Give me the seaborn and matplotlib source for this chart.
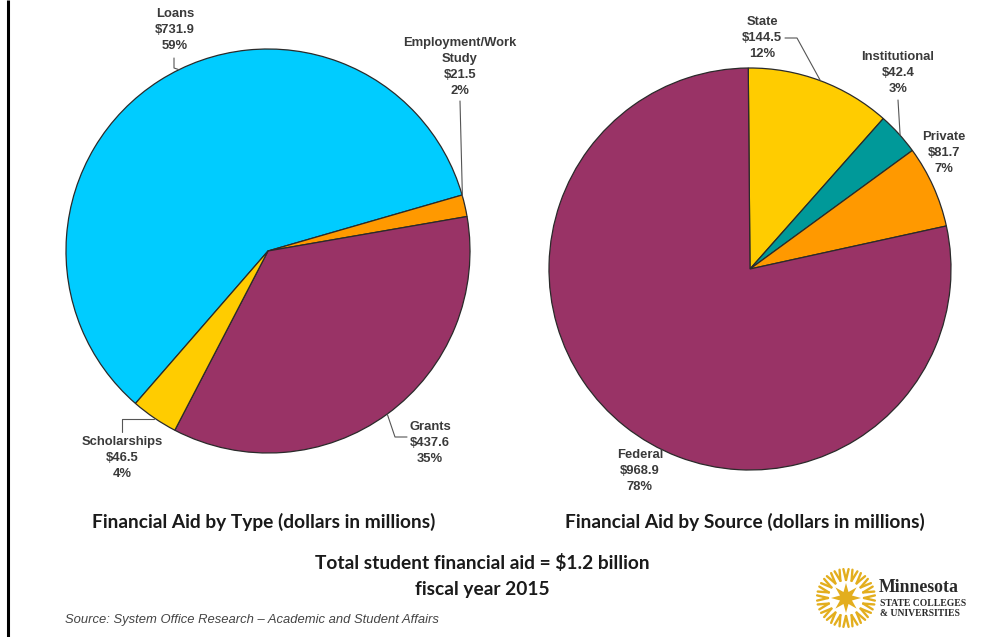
import numpy as np
import matplotlib
matplotlib.use("Agg")
import matplotlib.pyplot as plt
import seaborn as sns

# Financial aid, fiscal year 2015 (dollars in millions)
type_labels = ["Loans", "Employment/Work\nStudy", "Grants", "Scholarships"]
type_values = [731.9, 21.5, 437.6, 46.5]
type_pcts = ["59%", "2%", "35%", "4%"]

source_labels = ["State", "Institutional", "Private", "Federal"]
source_values = [144.5, 42.4, 81.7, 968.9]
source_pcts = ["12%", "3%", "7%", "78%"]

type_colors = ["#00CCFF", "#FF9900", "#993366", "#FFCC00"]
source_colors = ["#FFCC00", "#009999", "#FF9900", "#993366"]

W, H = 1003, 637
sns.set_theme(style="white")
plt.rcParams["font.family"] = ["Liberation Sans", "DejaVu Sans"]

fig = plt.figure(figsize=(W / 100, H / 100), dpi=100)
ax = fig.add_axes([0, 0, 1, 1])


def Y(y):
    """Page coordinates measured from the top."""
    return H - y


LABEL_KW = dict(fontsize=9.4, fontweight="bold", color="#3a3a3a",
                ha="center", va="center", linespacing=1.45)
LEADER_KW = dict(color="#555555", lw=0.8)


def draw_pie(values, colors, center, radius, startangle):
    wedges, _ = ax.pie(values, colors=colors, startangle=startangle,
                       counterclock=False, center=center, radius=radius,
                       frame=True,
                       wedgeprops=dict(edgecolor="#2a2a2a", linewidth=0.9))
    return wedges


def edge_point(wedge, frac=0.5, r_scale=1.0):
    ang = np.deg2rad(wedge.theta1 + frac * (wedge.theta2 - wedge.theta1))
    cx, cy = wedge.center
    r = wedge.r * r_scale
    return cx + r * np.cos(ang), cy + r * np.sin(ang)


def label(text, value, pct, x, y):
    ax.text(x, Y(y), f"{text}\n${value:.1f}\n{pct}", **LABEL_KW)


# ---- Left pie: aid by type ----
lc, lr = (268, Y(251)), 202
lw = draw_pie(type_values, type_colors, lc, lr, 229)

# Loans
label(type_labels[0], type_values[0], type_pcts[0], 175, 30)
px, py = edge_point(lw[0], 0.47)
ax.plot([174, 174, px], [Y(58), Y(68), py], **LEADER_KW)

# Employment / Work Study
ax.text(460, Y(67), f"{type_labels[1]}\n${type_values[1]:.1f}\n{type_pcts[1]}",
        **LABEL_KW)
px, py = edge_point(lw[1], 0.95)
ax.plot([460, px], [Y(101), py], **LEADER_KW)

# Grants
label(type_labels[2], type_values[2], type_pcts[2], 430, 443)
px, py = edge_point(lw[2], 0.5)
ax.plot([px, 395, 407], [py, Y(437), Y(437)], **LEADER_KW)

# Scholarships
label(type_labels[3], type_values[3], type_pcts[3], 122, 458)
px, py = edge_point(lw[3], 0.5)
ax.plot([122, 122, px], [Y(432), Y(419), Y(419)], **LEADER_KW)

# ---- Right pie: aid by source ----
rc, rr = (750, Y(269)), 201
rw = draw_pie(source_values, source_colors, rc, rr, 90.5)

# State
label(source_labels[0], source_values[0], source_pcts[0], 762, 38)
px, py = edge_point(rw[0], 0.5)
ax.plot([785, 797, px], [Y(38), Y(38), py], **LEADER_KW)

# Institutional
label(source_labels[1], source_values[1], source_pcts[1], 898, 73)
px, py = edge_point(rw[1], 0.45)
ax.plot([898, px], [Y(100), py], **LEADER_KW)

# Private
label(source_labels[2], source_values[2], source_pcts[2], 944, 153)

# Federal
label(source_labels[3], source_values[3], source_pcts[3], 640, 471)

# ---- Titles and notes ----
TITLE_KW = dict(family=["Lato", "DejaVu Sans"], fontsize=13.8,
                fontweight="bold", color="#1a1a1a", ha="center",
                va="center")
ax.text(264, Y(522), "Financial Aid by Type (dollars in millions)", **TITLE_KW)
ax.text(745, Y(522), "Financial Aid by Source (dollars in millions)", **TITLE_KW)
ax.text(482, Y(563), "Total student financial aid = $1.2 billion", **TITLE_KW)
ax.text(482, Y(589), "fiscal year 2015", **TITLE_KW)

ax.text(65, Y(620), "Source: System Office Research \u2013 Academic and Student Affairs",
        fontsize=9.4, style="italic", color="#444444", ha="left", va="center")

# ---- Logo ----
gold = "#E3AE1E"
lcx, lcy = 846, Y(598)
n = 8
ang = np.linspace(0, 2 * np.pi, 2 * n, endpoint=False) + np.pi / 2
rad = np.where(np.arange(2 * n) % 2 == 0, 15, 6.5)
ax.fill(lcx + rad * np.cos(ang), lcy + rad * np.sin(ang), color=gold, lw=0)
for a in np.linspace(0, 2 * np.pi, 20, endpoint=False):
    for da in (-0.09, 0.09):
        ax.plot([lcx + 18 * np.cos(a), lcx + 29 * np.cos(a + da)],
                [lcy + 18 * np.sin(a), lcy + 29 * np.sin(a + da)],
                color=gold, lw=1.7, solid_capstyle="round")
SERIF = ["Liberation Serif", "DejaVu Serif"]
ax.text(879, Y(587), "Minnesota", family=SERIF, fontsize=12.8,
        fontweight="bold", color="#2a2a2a", ha="left", va="center")
ax.text(880, Y(603), "STATE COLLEGES", family=SERIF, fontsize=6.9,
        fontweight="bold", color="#2a2a2a", ha="left", va="center")
ax.text(880, Y(614), "& UNIVERSITIES", family=SERIF, fontsize=6.9,
        fontweight="bold", color="#2a2a2a", ha="left", va="center")

# Left border rule
ax.plot([8, 8], [0, H], color="black", lw=2.2, solid_capstyle="butt")

ax.set_xlim(0, W)
ax.set_ylim(0, H)
ax.set_aspect("equal")
ax.axis("off")

fig.savefig("out.png", dpi=100, facecolor="white")
